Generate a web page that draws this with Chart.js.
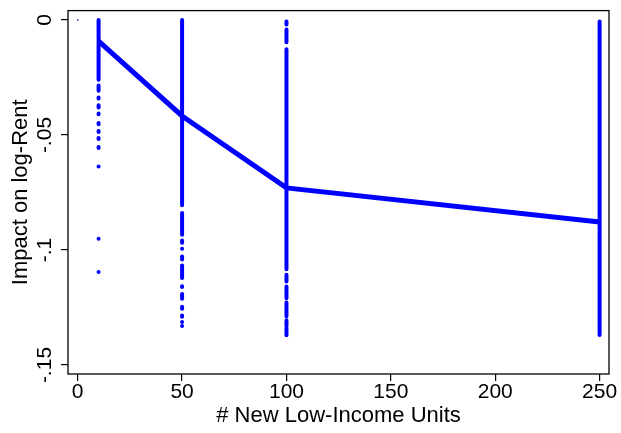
<!DOCTYPE html>
<html>
<head>
<meta charset="utf-8">
<script src="https://cdn.jsdelivr.net/npm/chart.js@4"></script>
<style>
  html, body { margin: 0; padding: 0; background: #fff; }
  #wrap { width: 621px; height: 433px; }
</style>
</head>
<body>
<div id="wrap"><canvas id="chartImpact"></canvas></div>
<script>
// mean impact by number of new low-income units
const unitLevels = [10, 50, 100, 250];
const meanImpact = [-0.0092, -0.0417, -0.0730, -0.0878];

// observed estimates at each level: dense runs [top, bottom] and lone dots
const runs10 = [[0, -0.0260], [-0.0285, -0.0307], [-0.0337, -0.0341], [-0.0371, -0.0380],
  [-0.0406, -0.0410], [-0.0448, -0.0453], [-0.0483, -0.0487], [-0.0513, -0.0517], [-0.0552, -0.0556]];
const dots10 = [-0.0637, -0.0951, -0.1095];
const runs50 = [[0, -0.0805], [-0.0839, -0.0934], [-0.0959, -0.0968], [-0.1028, -0.1041],
  [-0.1067, -0.1122], [-0.1157, -0.1161], [-0.1191, -0.1212], [-0.1247, -0.1255], [-0.1285, -0.1290]];
const dots50 = [-0.0994, -0.1313, -0.1330];
const runs100 = [[-0.0006, -0.0019], [-0.0041, -0.0097], [-0.0127, -0.1084], [-0.1107, -0.1137],
  [-0.1159, -0.1210], [-0.1228, -0.1288], [-0.1305, -0.1330], [-0.1339, -0.1370]];
const runs250 = [[-0.0006, -0.1369]];
const zeroObs = [{x: 0, y: 0}];

const xTicks = [0, 50, 100, 150, 200, 250];
const yTicks = [0, -0.05, -0.1, -0.15];
const yTickLabels = ['0', '-.05', '-.1', '-.15'];

const blue = '#0000ff';

function runPoints(x, runs) {
  let pts = [];
  for (let i = 0; i < runs.length; i++) {
    pts.push({x: x, y: runs[i][0]});
    pts.push({x: x, y: runs[i][1]});
    pts.push({x: x, y: null});
  }
  return pts;
}

const stripData = [].concat(
  runPoints(unitLevels[0], runs10),
  runPoints(unitLevels[1], runs50),
  runPoints(unitLevels[2], runs100),
  runPoints(unitLevels[3], runs250)
);
const dotData = dots10.map(v => ({x: unitLevels[0], y: v}))
  .concat(dots50.map(v => ({x: unitLevels[1], y: v})));

const frame = {
  id: 'frame',
  afterDraw(chart) {
    const a = chart.chartArea;
    const c = chart.ctx;
    c.save();
    c.strokeStyle = '#000';
    c.lineWidth = 1.3;
    c.strokeRect(a.left, a.top, a.right - a.left, a.bottom - a.top);
    c.restore();
  }
};

const ctx = document.getElementById('chartImpact');

new Chart(ctx, {
  type: 'scatter',
  data: {
    datasets: [
      {
        data: stripData,
        showLine: true,
        spanGaps: false,
        borderColor: blue,
        borderWidth: 4,
        borderCapStyle: 'round',
        pointRadius: 0
      },
      {
        data: dotData,
        backgroundColor: blue,
        borderWidth: 0,
        pointRadius: 2
      },
      {
        data: zeroObs,
        backgroundColor: '#303090',
        borderWidth: 0,
        pointRadius: 0.9
      },
      {
        data: unitLevels.map((u, i) => ({x: u, y: meanImpact[i]})),
        showLine: true,
        borderColor: blue,
        borderWidth: 5,
        pointRadius: 0
      }
    ]
  },
  options: {
    responsive: true,
    maintainAspectRatio: false,
    animation: false,
    layout: { padding: { top: 6, right: 12, left: 0, bottom: 0 } },
    scales: {
      x: {
        type: 'linear',
        min: -4.65,
        max: 254.5,
        afterFit: s => { s.height = 59; },
        afterBuildTicks: s => { s.ticks = xTicks.map(v => ({value: v})); },
        grid: { drawOnChartArea: false, drawTicks: true, tickLength: 7, color: '#000', lineWidth: 1.2 },
        border: { display: false },
        ticks: {
          color: '#000',
          font: { family: 'Liberation Sans', size: 21 },
          padding: -1,
          maxRotation: 0,
          callback: v => String(v)
        },
        title: {
          display: true,
          text: '# New Low-Income Units',
          color: '#000',
          font: { family: 'Liberation Sans', size: 22 },
          padding: { top: 0, bottom: 4 }
        }
      },
      y: {
        type: 'linear',
        min: -0.1539,
        max: 0.0041,
        afterFit: s => { s.width = 68; },
        afterBuildTicks: s => { s.ticks = yTicks.map(v => ({value: v})); },
        grid: { drawOnChartArea: false, drawTicks: true, tickLength: 7, color: '#000', lineWidth: 1.2 },
        border: { display: false },
        ticks: {
          color: '#000',
          font: { family: 'Liberation Sans', size: 21 },
          minRotation: 90,
          maxRotation: 90,
          crossAlign: 'center',
          padding: -2,
          callback: (v, i) => yTickLabels[i]
        },
        title: {
          display: true,
          text: 'Impact on log-Rent',
          color: '#000',
          font: { family: 'Liberation Sans', size: 22 },
          padding: { top: 8, bottom: 0 }
        }
      }
    },
    plugins: {
      legend: { display: false },
      tooltip: { enabled: false }
    }
  },
  plugins: [frame]
});
</script>
</body>
</html>
